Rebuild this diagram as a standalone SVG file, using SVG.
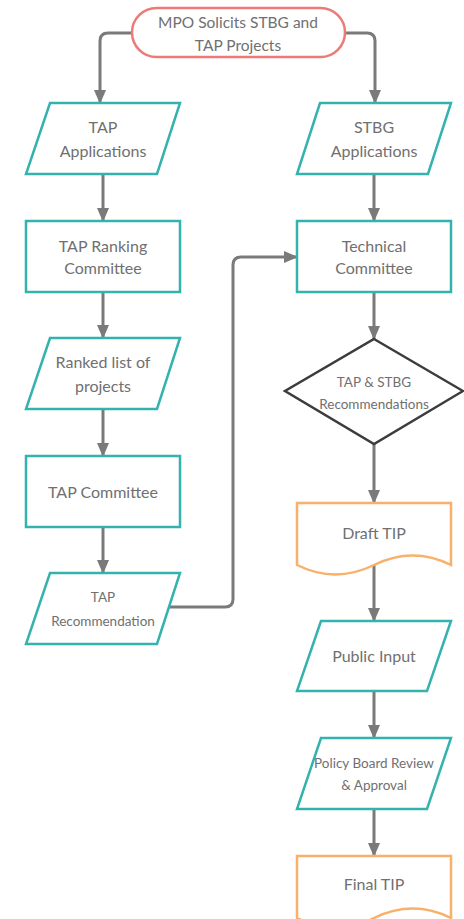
<svg xmlns="http://www.w3.org/2000/svg" width="464" height="919" viewBox="0 0 464 919">
<defs>
<marker id="ah" viewBox="0 0 14 12" refX="13" refY="6" markerWidth="14" markerHeight="12" markerUnits="userSpaceOnUse" orient="auto">
<path d="M0,0 L14,6 L0,12 Z" fill="#7a7a7a"/>
</marker>
<style>
.t{font-family:Lato,"Liberation Sans",sans-serif;font-size:16px;fill:#707070;text-anchor:middle}
.s{font-size:13.5px}
.m{font-size:15.5px}
.teal{fill:#fff;stroke:#33b2ae;stroke-width:2.5}
.org{fill:#fff;stroke:#f8b06a;stroke-width:2.5}
.c{fill:none;stroke:#7a7a7a;stroke-width:3;marker-end:url(#ah)}
</style>
</defs>
<rect width="464" height="919" fill="#fff"/>
<g id="connectors">
<path class="c" d="M132,33 H108 Q100,33 100,41 V103"/>
<path class="c" d="M345,33 H367 Q375,33 375,41 V103"/>
<path class="c" d="M103,174 V221"/>
<path class="c" d="M374,174 V221"/>
<path class="c" d="M103,292 V338"/>
<path class="c" d="M374,292 V339"/>
<path class="c" d="M103,409 V456"/>
<path class="c" d="M103,527 V573"/>
<path class="c" d="M168,607 H225 Q233,607 233,599 V265 Q233,257 241,257 H297"/>
<path class="c" d="M374,444 V503"/>
<path class="c" d="M374,565 V621"/>
<path class="c" d="M374,691 V738"/>
<path class="c" d="M374,809 V856"/>
</g>
<g id="mpo">
<rect x="132" y="8" width="213" height="49" rx="24.5" fill="#fff" stroke="#ee7a78" stroke-width="2.5"/>
<text class="t m" x="238" y="28">MPO Solicits STBG and</text>
<text class="t m" x="238" y="51">TAP Projects</text>
</g>
<g id="tap-app">
<polygon class="teal" points="50,103 180,103 157,174 26,174"/>
<text class="t" x="103" y="133">TAP</text>
<text class="t" x="103" y="157">Applications</text>
</g>
<g id="stbg-app">
<polygon class="teal" points="320,103 451,103 428,174 297,174"/>
<text class="t" x="374" y="133">STBG</text>
<text class="t" x="374" y="157">Applications</text>
</g>
<g id="tap-ranking">
<rect class="teal" x="26" y="221" width="154" height="71"/>
<text class="t" x="103" y="252">TAP Ranking</text>
<text class="t" x="103" y="274">Committee</text>
</g>
<g id="technical">
<rect class="teal" x="297" y="221" width="154" height="71"/>
<text class="t" x="374" y="252">Technical</text>
<text class="t" x="374" y="274">Committee</text>
</g>
<g id="ranked">
<polygon class="teal" points="50,338 180,338 157,409 26,409"/>
<text class="t" x="103" y="368">Ranked list of</text>
<text class="t" x="103" y="392">projects</text>
</g>
<g id="tap-committee">
<rect class="teal" x="26" y="456" width="154" height="71"/>
<text class="t" x="103" y="498">TAP Committee</text>
</g>
<g id="tap-rec">
<polygon class="teal" points="50,573 180,573 157,644 26,644"/>
<text class="t s" x="103" y="602">TAP</text>
<text class="t s" x="103" y="626">Recommendation</text>
</g>
<g id="diamond">
<polygon points="374,339 463,391 374,444 285,391" fill="#fff" stroke="#3c3c3c" stroke-width="2.5"/>
<text class="t s" x="374" y="387">TAP &amp; STBG</text>
<text class="t s" x="374" y="409">Recommendations</text>
</g>
<g id="draft-tip">
<path class="org" d="M297,503 H451 V565 Q413,546 374,565 Q335,584 297,565 Z"/>
<text class="t" x="374" y="539">Draft TIP</text>
</g>
<g id="public-input">
<polygon class="teal" points="321,621 451,621 427,691 297,691"/>
<text class="t" x="374" y="662">Public Input</text>
</g>
<g id="policy">
<polygon class="teal" points="321,738 451,738 427,809 297,809"/>
<text class="t s" x="374" y="768">Policy Board Review</text>
<text class="t s" x="374" y="790">&amp; Approval</text>
</g>
<g id="final-tip">
<path class="org" d="M297,856 H451 V918 Q413,899 374,918 Q335,937 297,918 Z"/>
<text class="t" x="374" y="890">Final TIP</text>
</g>
</svg>
